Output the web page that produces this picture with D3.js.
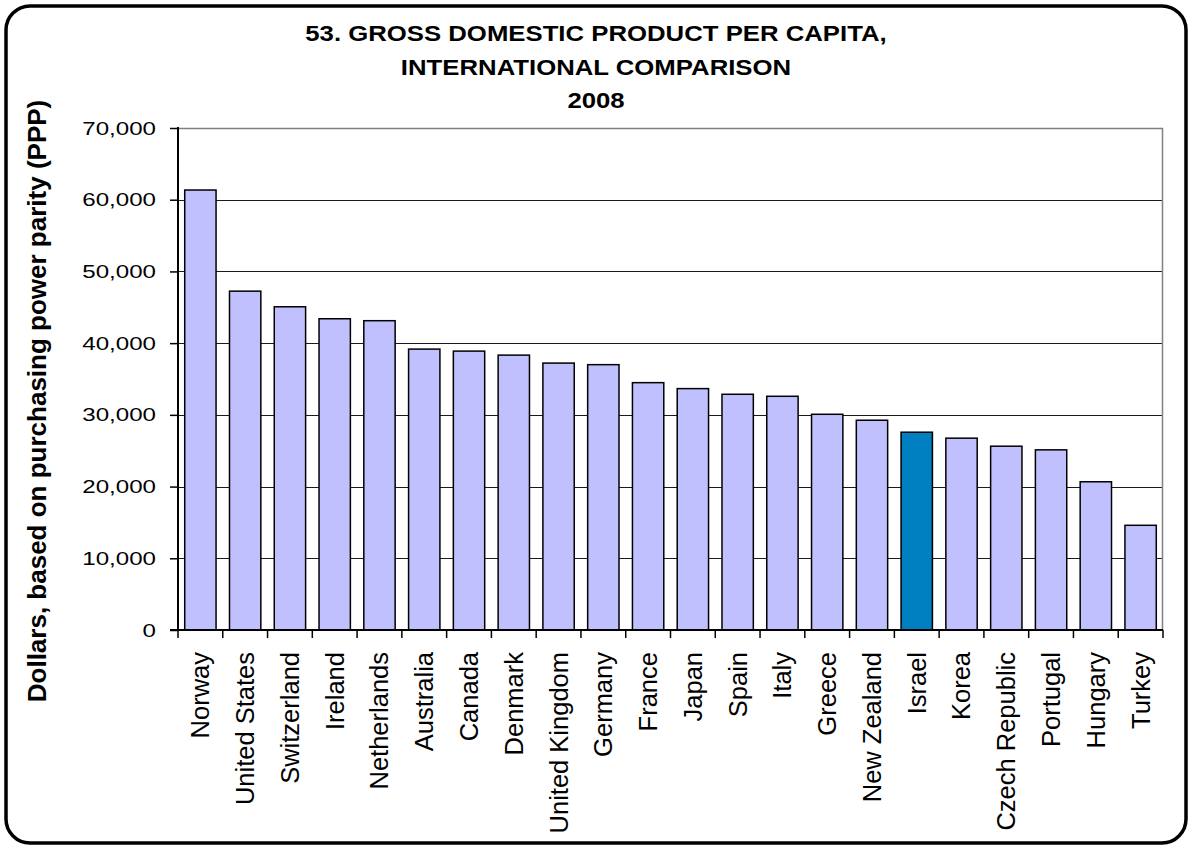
<!DOCTYPE html>
<html>
<head>
<meta charset="utf-8">
<script src="https://cdn.jsdelivr.net/npm/d3@7"></script>
<style>
  body { margin: 0; background: #fff; }
  text { font-family: "Liberation Sans", Arial, sans-serif; }
</style>
</head>
<body>
<div id="chart-area"></div>
<script>
// data
var countries = ["Norway", "United States", "Switzerland", "Ireland", "Netherlands",
	"Australia", "Canada", "Denmark", "United Kingdom", "Germany", "France", "Japan",
	"Spain", "Italy", "Greece", "New Zealand", "Israel", "Korea", "Czech Republic",
	"Portugal", "Hungary", "Turkey"];
var gdp = [61350, 47250, 45070, 43400, 43130, 39170, 38890, 38330, 37220, 37000,
	34490, 33660, 32870, 32590, 30080, 29250, 27580, 26750, 25630, 25120, 20670, 14600];
var yTicks = [0, 10000, 20000, 30000, 40000, 50000, 60000, 70000];
var titleLines = ["53. GROSS DOMESTIC PRODUCT PER CAPITA,", "INTERNATIONAL COMPARISON", "2008"];
var highlight = "Israel";

var W = 1192, H = 847;
var margin = {left: 178, right: 29, top: 128, bottom: 217};
var width = W - margin.left - margin.right,
	height = H - margin.top - margin.bottom;

var svg = d3.select("#chart-area")
	.append("svg")
		.attr("width", W)
		.attr("height", H);

// outer frame
svg.append("rect")
	.attr("x", 6).attr("y", 6)
	.attr("width", W - 12).attr("height", H - 10)
	.attr("rx", 24).attr("ry", 24)
	.attr("fill", "#fff")
	.attr("stroke", "#000")
	.attr("stroke-width", 3.5);

// title (the original lettering is a bit wider than Arial, hence the x-stretch)
svg.selectAll(".title")
	.data(titleLines)
	.enter().append("text")
		.attr("class", "title")
		.attr("transform", function(d, i){
			return "translate(596," + (41 + i * 33.7) + ") scale(1.17,1)";
		})
		.attr("text-anchor", "middle")
		.attr("font-size", "22px")
		.attr("font-weight", "bold")
		.text(function(d){ return d; });

var g = svg.append("g")
	.attr("transform", "translate(" + margin.left + "," + margin.top + ")");

// scales
var x = d3.scaleBand()
	.domain(countries)
	.range([0, width])
	.paddingInner(0.3)
	.paddingOuter(0.15);

var y = d3.scaleLinear()
	.domain([0, 70000])
	.range([height, 0]);

// gridlines
g.selectAll(".grid")
	.data(yTicks.slice(1, -1))
	.enter().append("line")
		.attr("x1", 0).attr("x2", width)
		.attr("y1", function(d){ return Math.round(y(d)) + 0.5; })
		.attr("y2", function(d){ return Math.round(y(d)) + 0.5; })
		.attr("stroke", "#1a1a1a")
		.attr("stroke-width", 1);

// plot border top & right (grey)
g.append("path")
	.attr("d", "M0,0.5H" + (width - 0.5) + "V" + height)
	.attr("fill", "none")
	.attr("stroke", "#808080")
	.attr("stroke-width", 1.5);

// bars
g.selectAll(".bar")
	.data(gdp)
	.enter().append("rect")
		.attr("class", "bar")
		.attr("x", function(d, i){ return x(countries[i]); })
		.attr("y", function(d){ return y(d); })
		.attr("width", x.bandwidth())
		.attr("height", function(d){ return height - y(d); })
		.attr("fill", function(d, i){ return countries[i] == highlight ? "#0080C0" : "#C0C0FF"; })
		.attr("stroke", "#000")
		.attr("stroke-width", 1.5);

// y axis
var yAxisCall = d3.axisLeft(y)
	.tickValues(yTicks)
	.tickSize(8)
	.tickPadding(0)
	.tickFormat(d3.format(","));
var yAxis = g.append("g").call(yAxisCall);
yAxis.select(".domain").attr("stroke-width", 2).attr("d", "M0,-1V" + (height + 1));
yAxis.selectAll(".tick line").attr("stroke-width", 1.5);
yAxis.selectAll("text")
	.attr("x", null)
	.attr("transform", "translate(-22,0) scale(1.27,1)")
	.attr("font-size", "19px")
	.attr("font-family", "Liberation Sans, Arial, sans-serif")
	.attr("fill", "#000");

// x axis: ticks sit between categories
var xAxis = g.append("g")
	.attr("transform", "translate(0," + height + ")");
xAxis.append("line")
	.attr("x1", -8).attr("x2", width)
	.attr("stroke", "#000")
	.attr("stroke-width", 2);
var bounds = d3.range(countries.length + 1).map(function(i){ return i * x.step(); });
xAxis.selectAll(".xtick")
	.data(bounds)
	.enter().append("line")
		.attr("x1", function(d){ return d; })
		.attr("x2", function(d){ return d; })
		.attr("y1", 0).attr("y2", 8)
		.attr("stroke", "#000")
		.attr("stroke-width", 1.5);
xAxis.selectAll(".xlabel")
	.data(countries)
	.enter().append("text")
		.attr("transform", function(d){
			return "translate(" + (x(d) + x.bandwidth() / 2) + ",22) rotate(-90)";
		})
		.attr("dy", "0.35em")
		.attr("text-anchor", "end")
		.attr("font-size", "25.5px")
		.text(function(d){ return d; });

// y axis title
svg.append("text")
	.attr("transform", "translate(46,401) rotate(-90)")
	.attr("text-anchor", "middle")
	.attr("font-size", "26px")
	.attr("font-weight", "bold")
	.text("Dollars, based on purchasing power parity (PPP)");
</script>
</body>
</html>
